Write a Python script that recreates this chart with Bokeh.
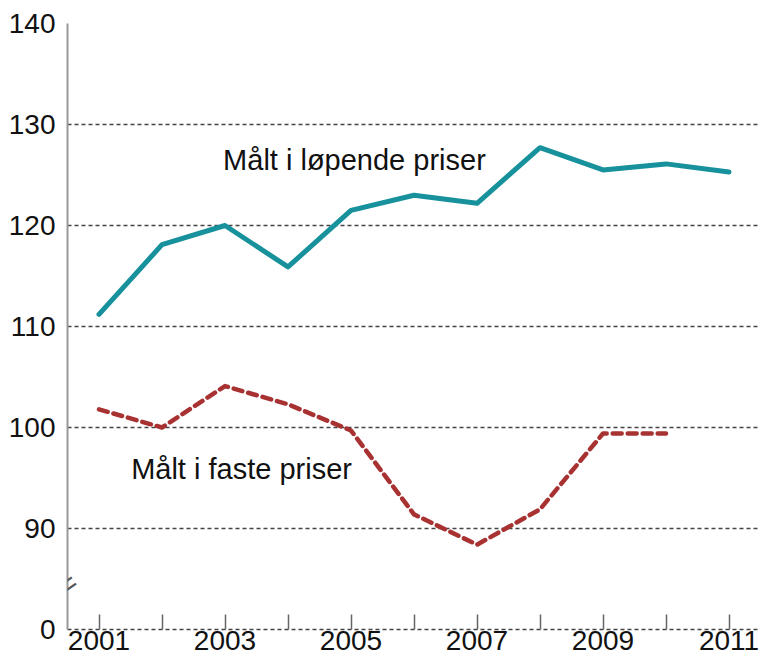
from bokeh.plotting import figure
from bokeh.models import FixedTicker, Range1d, Label
from bokeh.embed import file_html
from bokeh.resources import INLINE

years = [2001, 2002, 2003, 2004, 2005, 2006, 2007, 2008, 2009, 2010, 2011]
lopende = [111.2, 118.1, 120.0, 115.9, 121.5, 123.0, 122.2, 127.7, 125.5, 126.1, 125.3]
faste_years = [2001, 2002, 2003, 2004, 2005, 2006, 2007, 2008, 2009, 2010]
faste = [101.8, 100.0, 104.1, 102.3, 99.7, 91.4, 88.4, 91.9, 99.4, 99.4]
y_ticks = [80, 90, 100, 110, 120, 130, 140]
y_tick_labels = ["0", "90", "100", "110", "120", "130", "140"]
x_tick_labels = ["2001", "", "2003", "", "2005", "", "2007", "", "2009", "", "2011"]
label_lopende = "Målt i løpende priser"
label_faste = "Målt i faste priser"

FONT = "Liberation Sans"

p = figure(width=760, height=656, output_backend="svg", toolbar_location=None,
           x_range=Range1d(2000.5, 2011.5), y_range=Range1d(80, 140),
           min_border_left=67, min_border_right=0, min_border_top=23, min_border_bottom=27)
p.outline_line_color = None
p.background_fill_color = "white"
p.border_fill_color = "white"

# grid
p.xgrid.grid_line_color = None
p.ygrid.ticker = FixedTicker(ticks=y_ticks)
p.ygrid.grid_line_color = "#444444"
p.ygrid.grid_line_dash = "4 3"
p.ygrid.grid_line_width = 1.5

# y axis
p.yaxis.ticker = FixedTicker(ticks=y_ticks)
p.yaxis.major_label_overrides = {t: l for t, l in zip(y_ticks, y_tick_labels)}
p.yaxis.major_tick_in = 0
p.yaxis.major_tick_out = 0
p.yaxis.minor_tick_line_color = None
p.yaxis.axis_line_color = "#999999"
p.yaxis.axis_line_width = 2
p.yaxis.major_label_standoff = 12
p.yaxis.major_label_text_font = FONT
p.yaxis.major_label_text_font_size = "28px"
p.yaxis.major_label_text_color = "#111111"

# x axis
p.xaxis.ticker = FixedTicker(ticks=years)
p.xaxis.major_label_overrides = {t: l for t, l in zip(years, x_tick_labels)}
p.xaxis.major_tick_in = 15
p.xaxis.major_tick_out = 0
p.xaxis.major_tick_line_color = "#666666"
p.xaxis.major_tick_line_width = 1.5
p.xaxis.minor_tick_line_color = None
p.xaxis.axis_line_color = "#444444"
p.xaxis.axis_line_dash = "4 3"
p.xaxis.axis_line_width = 1.5
p.xaxis.major_label_standoff = 1
p.xaxis.major_label_text_font = FONT
p.xaxis.major_label_text_font_size = "28px"
p.xaxis.major_label_text_color = "#111111"

# series
p.line(years, lopende, line_color="#17919C", line_width=5, line_join="round", line_cap="round")
p.line(faste_years, faste, line_color="#A83232", line_width=4.5, line_dash="9 6",
       line_join="round", line_cap="round")

# labels
p.add_layout(Label(x=2002.97, y=126.5, text=label_lopende, text_font=FONT,
                   text_font_size="29px", text_color="#111111", text_baseline="middle"))
p.add_layout(Label(x=2001.51, y=95.9, text=label_faste, text_font=FONT,
                   text_font_size="29px", text_color="#111111", text_baseline="middle"))

# axis break mark
p.add_layout(Label(x=2000.5, y=84.5, text="=", text_font=FONT, text_font_size="30px",
                   text_color="#555555", text_align="center", text_baseline="middle",
                   angle=0.6))

open("out.html", "w").write(file_html(p, INLINE))
